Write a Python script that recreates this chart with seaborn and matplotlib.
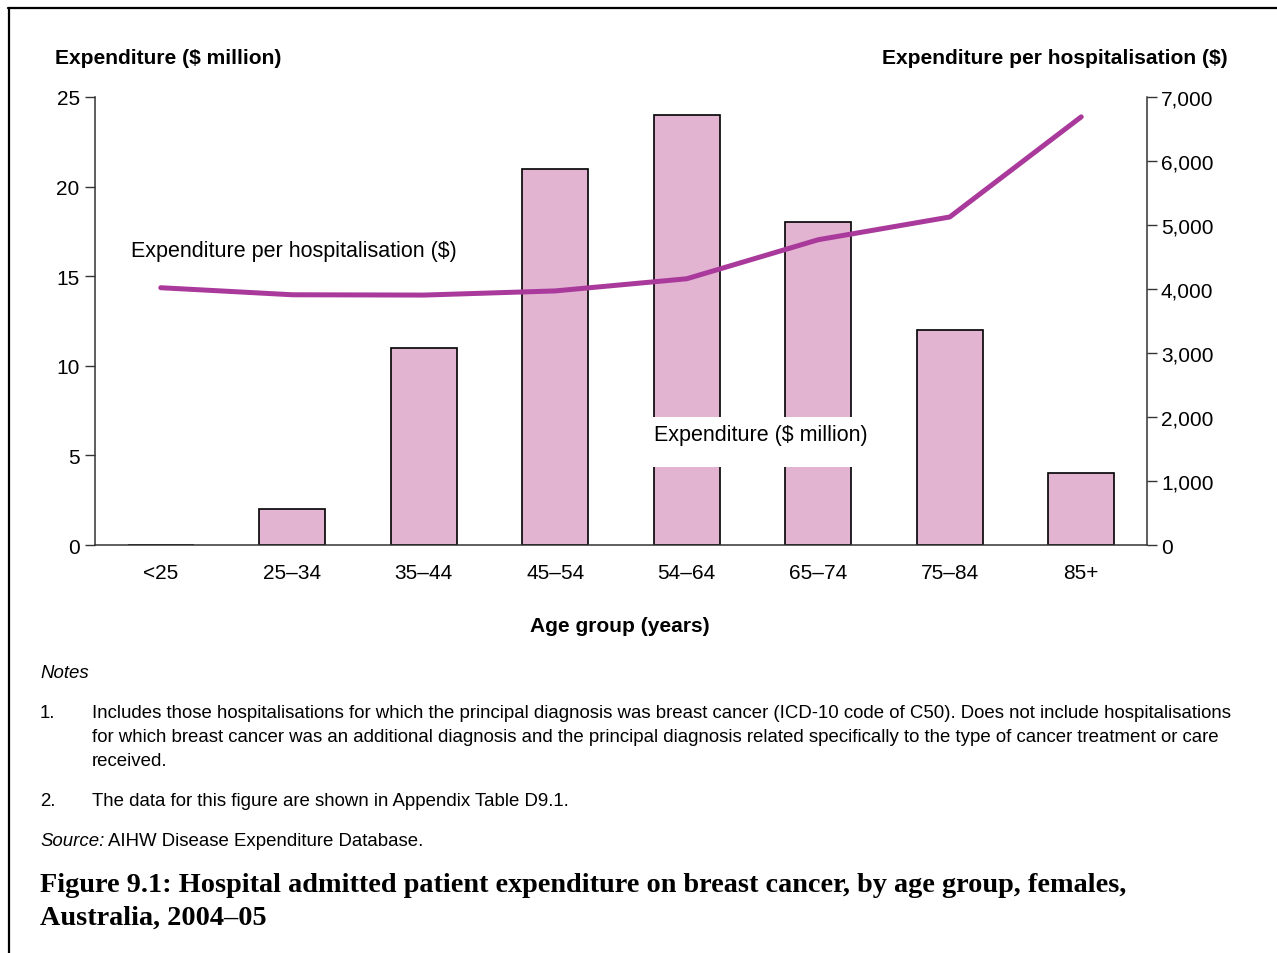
import matplotlib
matplotlib.use("Agg")
import matplotlib.pyplot as plt
import seaborn as sns
import pandas as pd
from matplotlib.lines import Line2D
from matplotlib.patches import Rectangle
from matplotlib.ticker import FuncFormatter

# data
age_groups = ['<25', '25–34', '35–44', '45–54', '54–64', '65–74', '75–84', '85+']
expenditure_m = [0, 2, 11, 21, 24, 18, 12, 4]
per_hosp = [4020, 3910, 3905, 3970, 4160, 4770, 5125, 6690]

df = pd.DataFrame({'age': age_groups, 'exp': expenditure_m, 'per': per_hosp})

sns.set_style('white')
plt.rcParams['font.family'] = ['Liberation Sans', 'DejaVu Sans']
plt.rcParams['text.color'] = 'black'
plt.rcParams['xtick.color'] = 'black'
plt.rcParams['ytick.color'] = 'black'
plt.rcParams['axes.labelcolor'] = 'black'

W, H = 1277, 954
fig = plt.figure(figsize=(W / 100, H / 100), dpi=100)
ax = fig.add_axes([95 / W, 1 - 546 / H, (1147 - 95) / W, (546 - 98) / H])

sns.barplot(data=df, x='age', y='exp', ax=ax, color='#E2B4D2', saturation=1,
            edgecolor='black', linewidth=1.2, width=0.5, zorder=2)
ax.set_ylim(0, 25)
ax.set_yticks([0, 5, 10, 15, 20, 25])
ax.set_xlim(-0.5, 7.5)
ax.set_xlabel('')
ax.set_ylabel('')

ax2 = ax.twinx()
sns.lineplot(data=df, x='age', y='per', ax=ax2, color='#A93A9C', linewidth=3.6,
             solid_capstyle='round', sort=False)
ax2.set_ylim(0, 7000)
ax2.set_yticks(range(0, 7001, 1000))
ax2.yaxis.set_major_formatter(FuncFormatter(lambda v, p: f'{int(v):,}'))
ax2.set_ylabel('')
ax2.set_xlim(-0.5, 7.5)

for a in (ax, ax2):
    a.spines['top'].set_visible(False)
    for s in a.spines.values():
        s.set_color('#333333')
        s.set_linewidth(1.1)
ax.spines['right'].set_visible(False)
ax2.spines['left'].set_visible(False)
ax2.spines['bottom'].set_visible(False)

tfs = 15
ax.tick_params(axis='y', left=True, length=7, width=1, color='#333333',
               labelsize=tfs, pad=4)
ax.tick_params(axis='x', bottom=False, labelsize=tfs, pad=9.5)
ax2.tick_params(axis='y', right=True, length=7, width=1, color='#333333',
                labelsize=tfs, pad=3)

# in-chart series labels
ax2.text(-0.23, 4600, 'Expenditure per hospitalisation ($)', fontsize=15.5,
         ha='left', va='center', zorder=5)
# white mask behind the bar label
ax2.add_patch(Rectangle((3.7, 1220), 1.6, 780, facecolor='white',
                        edgecolor='none', zorder=4))
ax2.text(3.75, 1725, 'Expenditure ($ million)', fontsize=15.5, ha='left', va='center',
         zorder=5)

# axis titles
dy = 2
fig.text(55 / W, 1 - (56 + dy) / H, 'Expenditure ($ million)', fontsize=15.1,
         fontweight='bold', ha='left', va='center')
fig.text(1228 / W, 1 - (56 + dy) / H, 'Expenditure per hospitalisation ($)', fontsize=15.1,
         fontweight='bold', ha='right', va='center')
fig.text(620 / W, 1 - (624 + dy) / H, 'Age group (years)', fontsize=15.1,
         fontweight='bold', ha='center', va='center')

# notes
nfs = 13.4
fig.text(40 / W, 1 - (672 + dy) / H, 'Notes', fontsize=nfs, style='italic', va='center')
fig.text(40 / W, 1 - (712 + dy) / H, '1.', fontsize=nfs, va='center')
note1 = ['Includes those hospitalisations for which the principal diagnosis was breast cancer (ICD-10 code of C50). Does not include hospitalisations',
         'for which breast cancer was an additional diagnosis and the principal diagnosis related specifically to the type of cancer treatment or care',
         'received.']
for i, line in enumerate(note1):
    fig.text(92 / W, 1 - (712 + 24 * i + dy) / H, line, fontsize=nfs, va='center')
fig.text(40 / W, 1 - (800 + dy) / H, '2.', fontsize=nfs, va='center')
fig.text(92 / W, 1 - (800 + dy) / H, 'The data for this figure are shown in Appendix Table D9.1.',
         fontsize=nfs, va='center')
fig.text(40 / W, 1 - (840 + dy) / H, 'Source:', fontsize=nfs, style='italic', va='center')
fig.text(108 / W, 1 - (840 + dy) / H, 'AIHW Disease Expenditure Database.', fontsize=nfs,
         va='center')

# caption
cap = dict(fontsize=20.3, fontweight='bold', family=['Liberation Serif', 'DejaVu Serif'],
           va='center', ha='left')
fig.text(40 / W, 1 - 886 / H,
         'Figure 9.1: Hospital admitted patient expenditure on breast cancer, by age group, females,',
         **cap)
fig.text(40 / W, 1 - 918 / H, 'Australia, 2004–05', **cap)

# frame lines (top and left)
fig.add_artist(Line2D([8 / W, 1], [1 - 9 / H, 1 - 9 / H], transform=fig.transFigure,
                      color='black', linewidth=1.6))
fig.add_artist(Line2D([9 / W, 9 / W], [0, 1 - 9 / H], transform=fig.transFigure,
                      color='black', linewidth=1.6))

fig.savefig('out.png', dpi=100)
